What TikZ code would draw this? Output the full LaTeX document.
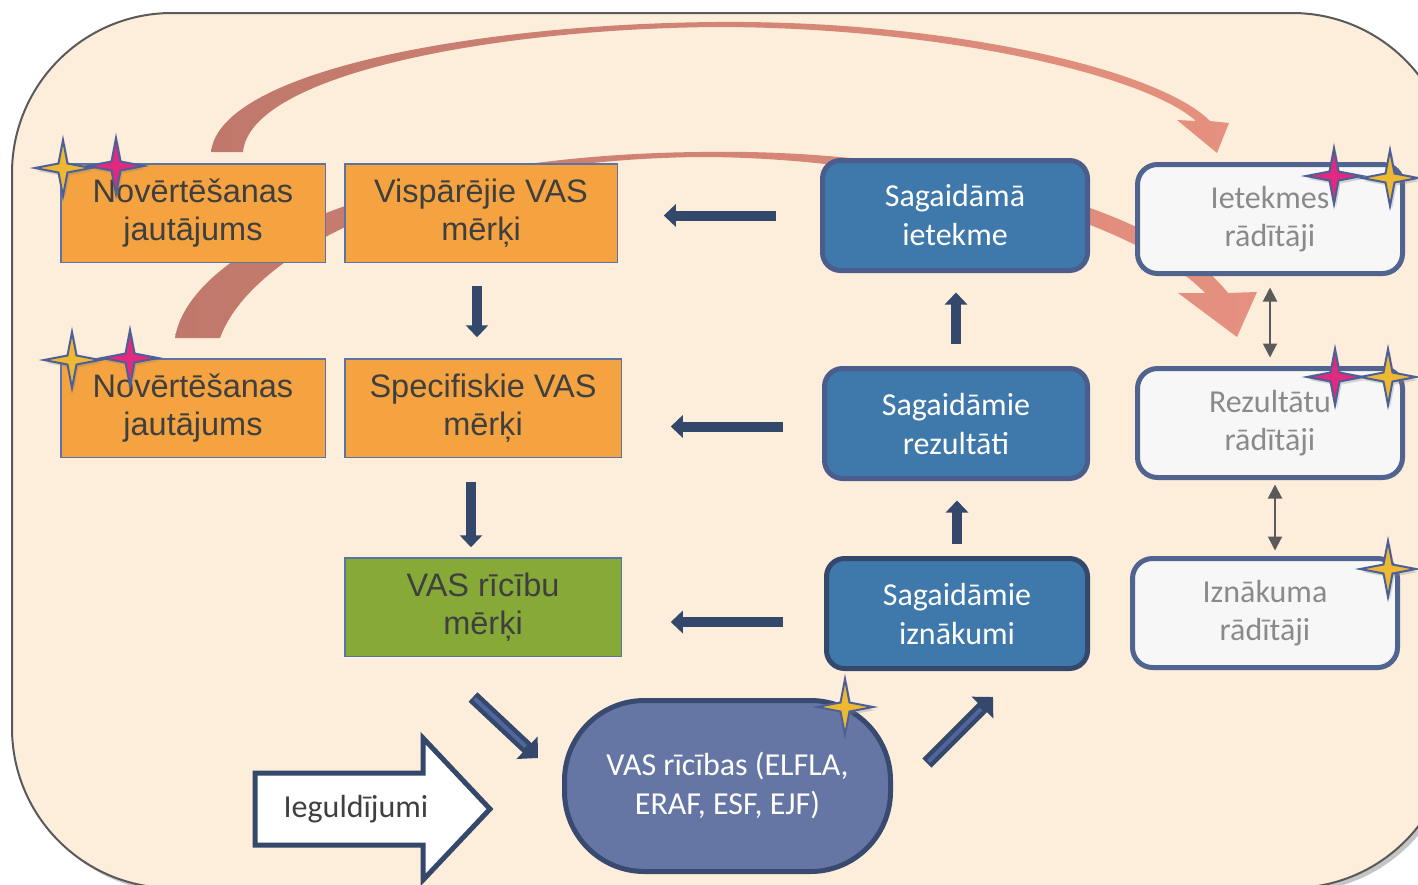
\documentclass[tikz,border=0pt]{standalone}
\usepackage{fontspec}
\setmainfont{Carlito}
\newfontfamily\arialfont{Liberation Sans}
\usetikzlibrary{arrows.meta,shadows}

\definecolor{peach}{HTML}{FDEDDB}
\definecolor{framegray}{HTML}{5A5A5A}
\definecolor{orangebox}{HTML}{F4A340}
\definecolor{oborder}{HTML}{5B74A6}
\definecolor{otext}{HTML}{3F3F3F}
\definecolor{greenbox}{HTML}{87A937}
\definecolor{bluebox}{HTML}{3F78AA}
\definecolor{bborder}{HTML}{4B5D8C}
\definecolor{whitebox}{HTML}{F7F7F7}
\definecolor{wborder}{HTML}{50648F}
\definecolor{wtext}{HTML}{8A8A8A}
\definecolor{navyarrow}{HTML}{34486C}
\definecolor{diaglight}{HTML}{52669E}
\definecolor{pillblue}{HTML}{6676A4}
\definecolor{pillborder}{HTML}{384A6F}
\definecolor{arcdark}{HTML}{BF786B}
\definecolor{arclight}{HTML}{E6917F}
\definecolor{starline}{HTML}{4C5F97}
\definecolor{stargold}{HTML}{EFB833}
\definecolor{starpink}{HTML}{E0297F}

\tikzset{
  obox/.style={draw=oborder, line width=1.5pt, fill=orangebox, text=otext, minimum height=98.5pt, inner sep=0pt, align=center, font=\arialfont\fontsize{32.5}{38.5}\selectfont},
  bbox/.style={draw=bborder, line width=5pt, fill=bluebox, text=white, rounded corners=18pt, minimum height=110pt, inner sep=0pt, align=center, font=\fontsize{32}{39}\selectfont},
  wbox/.style={draw=wborder, line width=5pt, fill=whitebox, text=wtext, rounded corners=20pt, minimum height=109pt, inner sep=0pt, align=center, font=\fontsize{32}{38}\selectfont},
  flowarrow/.style={draw=navyarrow, line width=10pt, -{Triangle[width=22pt,length=12pt]}},
  linkarrow/.style={draw=framegray, line width=2pt, {Triangle[width=14pt,length=14pt]}-{Triangle[width=14pt,length=14pt]}},
  diagarrow/.style={draw=navyarrow, line width=13pt, -{Triangle[width=30pt,length=15pt]}},
  diaginner/.style={draw=diaglight, line width=4pt, shorten <=2pt, shorten >=17pt},
  pics/sparkle/.style={code={
    \draw[draw=starline, line width=2pt, fill=#1, drop shadow={opacity=0.3, shadow xshift=2pt, shadow yshift=-3pt}]
      (0,-28) -- (4.5,-4.5) -- (28,0) -- (4.5,4.5) -- (0,28) -- (-4.5,4.5) -- (-28,0) -- (-4.5,-4.5) -- cycle;}}
}

\begin{document}
\begin{tikzpicture}[x=1pt, y=-1pt]
\useasboundingbox (0,0) rectangle (1418,884);
\clip (0,0) rectangle (1418,884);
\fill[white] (0,0) rectangle (1418,884);
\draw[fill=peach, draw=framegray, line width=2pt, rounded corners=160pt, drop shadow={opacity=0.45, shadow xshift=4pt, shadow yshift=-4pt}] (12,13) rectangle (1452,888);

\shade[left color=arcdark, right color=arclight] (211,152) .. controls (220,70) and (480,24) .. (716,22) .. controls (950,20) and (1160,70) .. (1210,121) -- (1229,123) -- (1217,153) -- (1177,120) -- (1196,121) .. controls (1145,75) and (940,27) .. (716,27) .. controls (490,29) and (250,75) .. (243,152) -- cycle;
\shade[left color=arcdark, right color=arclight] (175,338) .. controls (190,245) and (400,155) .. (700,152) .. controls (900,148) and (1150,195) .. (1228,293) -- (1257,292) -- (1237,337) -- (1178,293) -- (1205,293) .. controls (1130,215) and (900,157) .. (700,157) .. controls (420,160) and (250,255) .. (220,338) -- cycle;

\node[obox, minimum width=264.5pt] (nov1) at (193,213) {Novērtēšanas\\jautājums};
\node[obox, minimum width=272.5pt] (visp) at (481,213) {Vispārējie VAS\\mērķi};
\node[obox, minimum width=264.5pt] (nov2) at (193,408) {Novērtēšanas\\jautājums};
\node[obox, minimum width=276.5pt] (spec) at (483,408) {Specifiskie VAS\\mērķi};
\node[obox, fill=greenbox, minimum width=276.5pt] (ricmerki) at (483,607) {VAS rīcību\\mērķi};

\node[bbox, minimum width=265pt] (ietekme) at (955,215.5) {Sagaidāmā\\ietekme};
\node[bbox, minimum width=263pt] (rezultati) at (956,423.5) {Sagaidāmie\\rezultāti};
\node[bbox, draw=navyarrow, minimum width=261pt] (iznakumi) at (957,613.5) {Sagaidāmie\\iznākumi};

\node[wbox, minimum width=265pt] (ietekmesr) at (1270,219) {Ietekmes\\rādītāji};
\node[wbox, minimum width=265pt] (rezultatur) at (1270,423) {Rezultātu\\rādītāji};
\node[wbox, minimum width=265pt] (iznakumar) at (1265,613) {Iznākuma\\rādītāji};

\node[draw=pillborder, line width=5pt, fill=pillblue, text=white, rounded corners=80pt, minimum width=326pt, minimum height=171pt, align=center, font=\fontsize{32}{39}\selectfont] (ricibas) at (727.5,786) {VAS rīcības (ELFLA,\\ERAF, ESF, EJF)};

\draw[draw=navyarrow, line width=5pt, fill=white, line join=miter] (255,773) -- (423,773) -- (423,738) -- (490,809) -- (423,880) -- (423,845) -- (255,845) -- cycle;
\node[text=otext, font=\fontsize{32}{38}\selectfont] (ieguldijumi) at (356,809) {Ieguldījumi};

\draw[flowarrow, shorten <=44.5pt, shorten >=45.75pt] (ietekme.west) -- (ietekme.west -| visp.east);
\draw[flowarrow, shorten <=39.5pt, shorten >=48.75pt] ([yshift=-3pt]rezultati.west) -- ([yshift=-3pt]rezultati.west -| spec.east);
\draw[flowarrow, shorten <=41.5pt, shorten >=48.75pt] ([yshift=-8.5pt]iznakumi.west) -- ([yshift=-8.5pt]iznakumi.west -| ricmerki.east);
\draw[flowarrow, shorten <=22.75pt, shorten >=20.75pt] ([xshift=-4pt]visp.south) -- ([xshift=-4pt]visp.south |- spec.north);
\draw[flowarrow, shorten <=23.75pt, shorten >=9.75pt] ([xshift=-12pt]spec.south) -- ([xshift=-12pt]spec.south |- ricmerki.north);
\draw[flowarrow, shorten <=22.5pt, shorten >=19.5pt] (rezultati.north) -- (rezultati.north |- ietekme.south);
\draw[flowarrow, shorten <=12.5pt, shorten >=19.5pt] (iznakumi.north) -- (iznakumi.north |- rezultati.south);

\draw[linkarrow, shorten <=11.5pt, shorten >=8.5pt] (ietekmesr.south) -- (rezultatur.north);
\draw[linkarrow, shorten <=4.5pt, shorten >=5.5pt] ([xshift=5pt]rezultatur.south) -- ([xshift=5pt]rezultatur.south |- iznakumar.north);

\coordinate (merkitail) at (473,697);
\coordinate (merkitip) at (538,758);
\coordinate (izntail) at (927,763);
\coordinate (izntip) at (993,697);
\draw[diagarrow] (merkitail) -- (merkitip);
\draw[diaginner] (merkitail) -- (merkitip);
\draw[diagarrow] (izntail) -- (izntip);
\draw[diaginner] (izntail) -- (izntip);

\pic at (63,168) {sparkle=stargold};
\pic at (116,166) {sparkle=starpink};
\pic at (72,360) {sparkle=stargold};
\pic at (130,358) {sparkle=starpink};
\pic at (1334,176) {sparkle=starpink};
\pic at (1390,178) {sparkle=stargold};
\pic at (1335,377) {sparkle=starpink};
\pic at (1388,377) {sparkle=stargold};
\pic at (1388,569) {sparkle=stargold};
\pic at (845,707) {sparkle=stargold};
\end{tikzpicture}
\end{document}
